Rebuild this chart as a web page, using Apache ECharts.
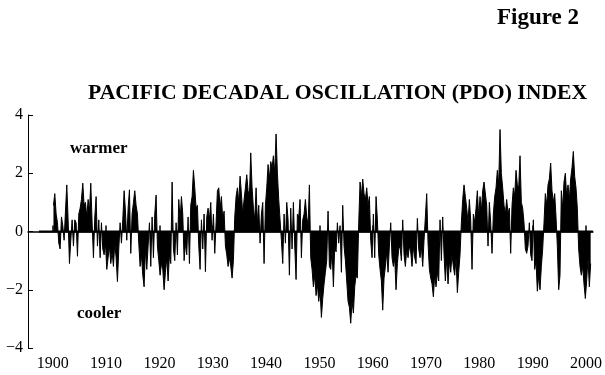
<!DOCTYPE html>
<html><head><meta charset="utf-8">
<script src="https://cdn.jsdelivr.net/npm/echarts@6/dist/echarts.min.js"></script>
<style>html,body{margin:0;padding:0;background:#fff}#c{width:605px;height:375px}</style>
</head><body><div id="c"></div>
<script>
// Quarterly PDO index values (4 per year)
const startYear = 1900;
const pdo1900s = [0.9,1.3,0.6,0.3, -0.4,-0.6,0.5,0.2, -0.3,0.7,1.6,0.4, -1.1,-0.3,0.4,-0.5, 0.4,0.3,-0.85,0.6, 0.8,1.1,1.66,0.9, 1.0,0.5,1.1,0.7, 1.66,0.3,-0.9,0.5, 1.2,-0.5,0.4,-0.9, 0.3,-0.6,-0.8,-0.4];
const pdo1910s = [-1.3,-0.9,-0.5,-1.1, -0.7,-1.2,-0.4,-0.9, -1.72,-0.6,0.3,-0.4, 0.4,1.4,0.7,-0.3, 0.8,1.43,-0.75,0.6, 1.0,1.4,0.9,0.6, -0.4,-1.2,-0.8,-1.5, -1.9,-0.6,-1.3,-0.5, 0.3,-1.2,0.5,-0.9, 0.6,1.25,-0.5,-1.0];
const pdo1920s = [-1.5,-1.1,-1.3,-2.0, -1.4,-0.9,-1.7,-0.8, -1.1,1.7,-0.6,-1.0, 0.3,-0.8,1.1,0.4, 1.2,0.6,-1.0,-0.4, -0.8,0.5,-1.1,0.9, 1.2,2.1,1.5,0.8, 0.9,-0.5,-1.3,0.4, -0.6,0.6,-1.38,0.5, 0.8,0.4,1.0,-0.3];
const pdo1930s = [0.6,-0.75,0.3,1.4, 1.5,0.8,1.2,0.4, 0.7,-0.5,-0.8,-1.2, -0.9,-1.2,-1.6,-1.0, 0.5,1.2,1.5,1.0, 1.9,1.3,0.6,1.1, 1.5,1.95,1.4,1.2, 2.7,1.5,0.8,0.4, 1.5,0.3,0.9,-0.4, 0.6,1.0,-1.1,0.9];
const pdo1940s = [1.5,2.3,1.8,2.4, 2.2,2.6,2.0,3.35, 2.0,1.1,0.4,-0.3, -1.1,0.6,-0.4,1.0, 0.4,-1.5,0.8,-0.6, 1.0,-0.5,-1.65,0.6, 0.5,1.1,-0.9,0.4, 0.6,1.1,0.5,0.2, 1.6,-0.9,-1.3,-1.9, -1.5,-2.2,-1.8,-2.4];
const pdo1950s = [-2.0,-2.95,-2.3,-1.8, -1.4,-1.0,0.7,-1.2, -1.3,-0.6,-1.9,-0.5, -0.7,0.3,-0.4,0.2, -1.4,0.9,-0.5,-1.0, -1.7,-2.4,-2.6,-3.15, -2.4,-2.8,-1.9,-1.5, -1.6,0.3,1.7,1.2, 1.8,1.3,1.1,1.5, 0.9,1.2,-0.3,-0.9];
const pdo1960s = [0.6,-0.9,1.2,0.4, -0.8,-1.3,-1.7,-2.7, -1.6,-1.2,-0.7,-1.4, -0.5,0.3,-0.9,-1.2, -0.9,-2.0,-1.1,-0.6, -0.5,-1.0,0.4,-0.8, -1.2,-0.6,-0.9,-0.5, -0.7,-1.2,-0.5,-0.9, -1.1,0.45,-0.6,-0.9, -0.5,-1.2,-0.3,0.5];
const pdo1970s = [1.3,-0.4,-1.3,-1.6, -1.8,-2.24,-1.5,-1.9, -1.4,-1.7,0.4,-1.0, 0.5,-0.8,-1.7,-0.9, -1.8,-1.0,-1.4,-0.8, -1.2,-1.5,-0.9,-2.1, -1.4,-0.8,0.3,1.1, 1.6,1.2,0.8,0.3, 1.1,0.4,-1.3,0.6, 0.3,0.8,1.4,0.5];
const pdo1980s = [1.2,0.7,1.4,1.7, 1.65,0.9,-0.5,1.0, 0.3,-0.75,0.6,1.2, 1.5,2.1,1.6,3.5, 2.0,1.5,0.9,0.6, 1.1,0.6,0.8,-0.75, 0.9,1.5,1.2,2.1, 1.6,1.5,2.6,1.0, 0.8,0.3,-0.6,-0.75, -0.5,0.3,-0.8,-1.0];
const pdo1990s = [0.4,-1.3,-1.0,-2.05, -1.5,-2.0,-1.2,-0.6, 0.3,1.3,0.9,1.6, 1.8,2.35,1.4,1.0, 1.3,0.5,-0.5,-2.0, -1.5,1.4,0.8,1.7, 2.0,1.2,1.6,1.1, 1.8,2.2,2.75,1.9, 1.5,0.8,-0.6,-1.2, -1.5,-1.2,-1.8,-2.3, -1.7,-0.9,-1.9,-1.1];
const xTickYears = [1900,1910,1920,1930,1940,1950,1960,1970,1980,1990,2000];
const yTicks = [-4,-2,0,2,4];
const titleText = 'PACIFIC DECADAL OSCILLATION (PDO) INDEX';
const figureText = 'Figure 2';
const warmText = 'warmer';
const coolText = 'cooler';
const zeroLineSpan = [1897.4, 2001.3];

const all = [].concat(pdo1900s,pdo1910s,pdo1920s,pdo1930s,pdo1940s,pdo1950s,pdo1960s,pdo1970s,pdo1980s,pdo1990s);
const seriesData = all.map((v,i)=>[startYear + i*0.25 + 0.125, v]);

const serif = '"Liberation Serif","DejaVu Serif",serif';
const chart = echarts.init(document.getElementById('c'), null, {renderer:'canvas'});
chart.setOption({
  animation:false,
  backgroundColor:'#fff',
  title:[
    {text:figureText, left:497, top:7, padding:0, textStyle:{fontFamily:serif,fontWeight:'bold',fontSize:23,color:'#000'}},
    {text:titleText, left:88, top:82, padding:0, textStyle:{fontFamily:serif,fontWeight:'bold',fontSize:21.7,color:'#000'}},
    {text:warmText, left:70, top:140, padding:0, textStyle:{fontFamily:serif,fontWeight:'bold',fontSize:17,color:'#000'}},
    {text:coolText, left:77, top:305, padding:0, textStyle:{fontFamily:serif,fontWeight:'bold',fontSize:17,color:'#000'}}
  ],
  grid:{left:28,right:7,top:115,bottom:27,containLabel:false},
  xAxis:{
    type:'value', min:1895.35, max:2001.3,
    axisLine:{show:true,lineStyle:{color:'#000',width:1.5}},
    axisTick:{show:true,inside:true,length:6,lineStyle:{color:'#000',width:1.5},customValues:xTickYears},
    axisLabel:{show:true,margin:8,color:'#000',fontFamily:serif,fontSize:16,customValues:xTickYears,formatter:v=>String(v)},
    splitLine:{show:false}
  },
  yAxis:{
    type:'value', min:-4, max:4, interval:2,
    axisLine:{show:true,lineStyle:{color:'#000',width:1}},
    axisTick:{show:true,inside:true,length:5,lineStyle:{color:'#000',width:1}},
    axisLabel:{show:true,margin:5,color:'#000',fontFamily:serif,fontSize:16,formatter:v=>v<0?'\u2212'+Math.abs(v):String(v)},
    splitLine:{show:false}
  },
  series:[
    {type:'line', data:seriesData, showSymbol:false, symbol:'none',
     lineStyle:{color:'#000',width:1}, areaStyle:{color:'#000',opacity:1,origin:0}, z:2},
    {type:'line', data:zeroLineSpan.map(x=>[x,0]), showSymbol:false, symbol:'none',
     lineStyle:{color:'#000',width:2}, z:3}
  ]
});
</script></body></html>
